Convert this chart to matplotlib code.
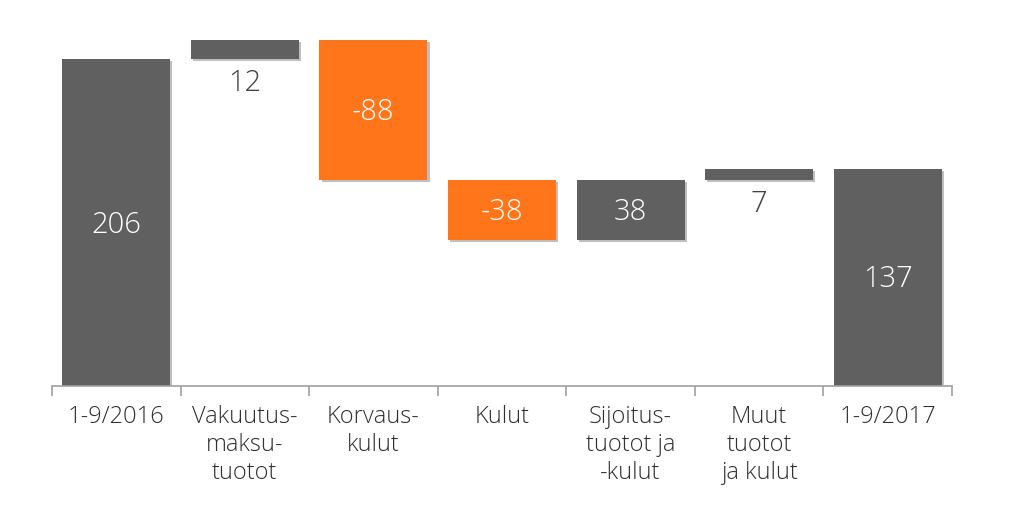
import numpy as np
import matplotlib.pyplot as plt
import matplotlib.patheffects as pe

categories = ['1-9/2016', 'Vakuutus-\nmaksu-\ntuotot', 'Korvaus-\nkulut', 'Kulut',
              'Sijoitus-\ntuotot ja\n-kulut', 'Muut\ntuotot\nja kulut', '1-9/2017']
changes = [206, 12, -88, -38, 38, 7]
total_end = 137

GRAY = '#606060'
ORANGE = '#ff751a'

plt.rcParams['font.family'] = ['Open Sans', 'DejaVu Sans']

# waterfall bottoms/heights
bottoms, heights = [], []
running = 0
for i, v in enumerate(changes):
    if i == 0:
        bottoms.append(0)
        heights.append(v)
    else:
        bottoms.append(min(running, running + v))
        heights.append(abs(v))
    running += v
bottoms.append(0)
heights.append(total_end)
values = changes + [total_end]
colors = [ORANGE if v < 0 else GRAY for v in values]

fig = plt.figure(figsize=(10.24, 5.16), dpi=100)
ax = fig.add_axes([52 / 1024, 1 - 386 / 516, 900 / 1024, 356 / 516])

x = np.arange(len(categories))
bars = ax.bar(x, heights, bottom=bottoms, width=0.84, color=colors, zorder=2)
for b in bars:
    b.set_path_effects([pe.SimplePatchShadow(offset=(1.5, -1.5), shadow_rgbFace='#000000', alpha=0.25),
                        pe.Normal()])

for i, b in enumerate(bars):
    v = values[i]
    if heights[i] > 20:
        ax.text(x[i], bottoms[i] + heights[i] / 2 - 1.5, f'{v}', ha='center', va='center',
                color='white', fontsize=21, fontweight='light')
    else:
        ax.text(x[i], bottoms[i] - 6, f'{v}', ha='center', va='top',
                color='#404040', fontsize=21, fontweight='light')

ax.set_xlim(-0.5, len(categories) - 0.5)
ax.set_ylim(0, 356 / 1.587)
ax.set_yticks([])
for s in ['top', 'right', 'left']:
    ax.spines[s].set_visible(False)
ax.spines['bottom'].set_color('#a0a0a0')
ax.spines['bottom'].set_linewidth(1.2)

ax.set_xticks(np.arange(-0.5, len(categories), 1.0), minor=False)
ax.set_xticklabels([])
ax.tick_params(axis='x', which='major', length=7, color='#a0a0a0', width=1.2)
ax.set_xticks(x, minor=True)
ax.set_xticklabels(categories, minor=True, fontsize=17, color='#303030',
                   linespacing=1.2, fontweight='light')
ax.tick_params(axis='x', which='minor', length=0, pad=14)

fig.savefig('out.png', dpi=100)
